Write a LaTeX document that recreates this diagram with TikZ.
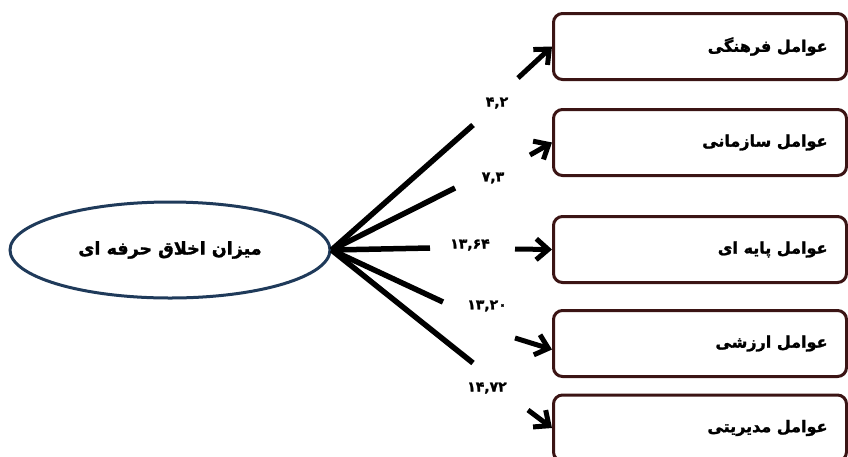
\documentclass[tikz,border=0pt]{standalone}
\usepackage{fontspec}
\newfontfamily\arabicfont[Script=Arabic, UprightFont=* Bold, FakeBold=1.6]{DejaVu Sans}
\TeXXeTstate=1
\usetikzlibrary{arrows.meta, positioning}
\usetikzlibrary{shapes.geometric}
\definecolor{ovalblue}{HTML}{1F3A5A}
\definecolor{boxred}{HTML}{3B1414}
\newcommand\bx{700}

\begin{document}
\begin{tikzpicture}[x=1pt, y=-1pt,
    factor/.style={draw=boxred, line width=3pt, rounded corners=9pt, minimum height=66pt, text width=255pt, inner xsep=19pt, align=flush right, font=\arabicfont\fontsize{16}{19}\selectfont},
    load/.style={font=\arabicfont\fontsize{14}{16}\selectfont},
    fan/.style={line width=5.5pt},
    link/.style={line width=5pt, -{Straight Barb[length=12pt, width=21pt]}}]

    \useasboundingbox (0,0) rectangle (848,456);

    % Oval
    \node at (170, 250) [ellipse, draw=ovalblue, line width=3pt, minimum width=320pt, minimum height=96pt, font=\arabicfont\fontsize{17.5}{20}\selectfont] (m) {\beginR میزان اخلاق حرفه ای\endR};

    % Fan
    \coordinate (f1) at (473, 125);
    \coordinate (f2) at (455, 188);
    \coordinate (f3) at (430, 248);
    \coordinate (f4) at (443, 302);
    \coordinate (f5) at (473, 363);

    \draw[fan] (m.east) -- (f1);
    \draw[fan] (m.east) -- (f2);
    \draw[fan] (m.east) -- (f3);
    \draw[fan] (m.east) -- (f4);
    \draw[fan] (m.east) -- (f5);

    \node at (497, 103) [load] (w1) {۴,۲};
    \node at (493, 178) [load] (w2) {۷,۳};
    \node at (470, 245) [load] (w3) {۱۳,۶۴};
    \node at (487, 306) [load] (w4) {۱۳,۲۰};
    \node at (487, 388) [load] (w5) {۱۴,۷۲};

    % Factors
    \node at (\bx, 46.5) [factor] (b1) {\beginR عوامل فرهنگی\endR};
    \node at (\bx, 142.5) [factor] (b2) {\beginR عوامل سازمانی\endR};
    \node at (\bx, 249.5) [factor] (b3) {\beginR عوامل پایه ای\endR};
    \node at (\bx, 343.5) [factor] (b4) {\beginR عوامل ارزشی\endR};
    \node at (\bx, 428) [factor] (b5) {\beginR عوامل مدیریتی\endR};

    % Arrows
    \coordinate (a1) at (518, 78);
    \coordinate (a2) at (530, 155);
    \coordinate (a3) at (515, 249);
    \coordinate (a4) at (515, 338);
    \coordinate (a5) at (528, 410);

    \draw[link] (a1) -- (b1.west);
    \draw[link] (a2) -- (b2.west);
    \draw[link] (a3) -- (b3.west);
    \draw[link] (a4) -- ([yshift=-6pt]b4.west);
    \draw[link] (a5) -- (b5.west);

\end{tikzpicture}
\end{document}
